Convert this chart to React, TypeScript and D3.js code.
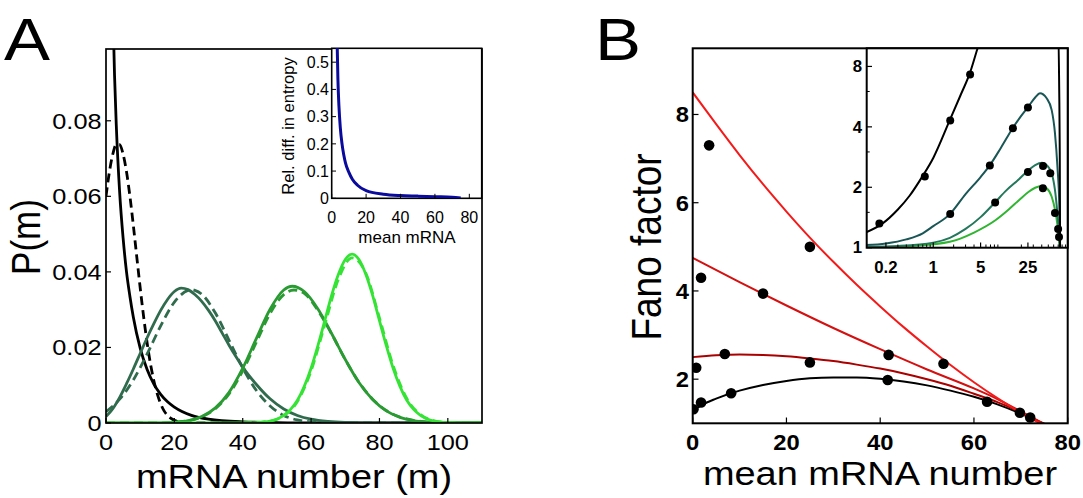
import React from 'react';
import * as d3 from 'd3';

type Pt = [number, number];

// ---------- Panel A: P(m) ----------
const blackSolid: Pt[] = [[1.5,0.135],[2,0.11],[2.5,0.092],[3,0.079],[4,0.061],[5,0.049],[6,0.04],[7,0.0335],[8,0.028],[10,0.0198],[12,0.0142],[14,0.0103],[16,0.0076],[18,0.0056],[20,0.0042],[25,0.002],[30,0.001],[40,0.0003],[50,0.0001],[60,0],[110,0]];
const blackDashed: Pt[] = [[0,0.06],[1,0.0665],[2,0.0712],[3,0.0737],[4,0.0737],[5,0.0712],[6,0.0665],[7,0.06],[8,0.0523],[9,0.044],[10,0.0358],[11,0.0282],[12,0.0214],[13,0.0157],[14,0.0112],[15,0.0077],[16,0.0051],[17,0.0032],[18,0.002],[19,0.0012],[20,0.0007],[22,0.0002],[25,0],[40,0]];
const darkSolid: Pt[] = [[0,0.0017],[2,0.0038],[4,0.0068],[6,0.0104],[8,0.0143],[10,0.0184],[12,0.0225],[14,0.0263],[16,0.0298],[18,0.0327],[20,0.0348],[22,0.0357],[24,0.0353],[26,0.034],[28,0.0322],[30,0.0298],[32,0.027],[34,0.0238],[36,0.0206],[38,0.0176],[40,0.0148],[44,0.0102],[48,0.0064],[52,0.0037],[56,0.002],[60,0.001],[65,0.0004],[70,0.00015],[80,0],[110,0]];
const darkDashed: Pt[] = [[0,0.003],[4,0.0063],[8,0.0114],[12,0.0182],[16,0.0257],[20,0.032],[24,0.0351],[25,0.0353],[26,0.0351],[28,0.0341],[32,0.0291],[36,0.0219],[40,0.0146],[44,0.0086],[48,0.0045],[52,0.002],[56,0.0008],[60,0.0003],[66,0.00005],[75,0],[110,0]];
const midSolid: Pt[] = [[0,0],[16,0.00005],[20,0.0002],[24,0.0006],[28,0.0017],[32,0.004],[36,0.0081],[40,0.0145],[44,0.0224],[48,0.0301],[52,0.0352],[54.5,0.0362],[58,0.0348],[62,0.0302],[66,0.0237],[70,0.0168],[74,0.0107],[78,0.0062],[82,0.0032],[86,0.0015],[90,0.0006],[95,0.0002],[100,0.00005],[110,0]];
const midDashed: Pt[] = [[0,0],[16,0.00005],[20,0.0002],[24,0.0006],[28,0.0016],[32,0.0038],[36,0.0077],[40,0.0138],[44,0.0214],[48,0.029],[52,0.034],[55,0.0352],[58,0.0343],[62,0.0298],[66,0.0236],[70,0.0168],[74,0.0108],[78,0.0063],[82,0.0033],[86,0.0016],[90,0.0007],[95,0.0002],[100,0],[110,0]];
const brightSolid: Pt[] = [[0,0],[40,0],[44,0.0001],[48,0.0005],[52,0.002],[54,0.0036],[56,0.006],[58,0.0097],[60,0.0145],[62,0.0205],[64,0.0271],[66,0.0338],[68,0.0394],[70,0.0433],[72,0.0447],[74,0.0433],[76,0.0394],[78,0.0338],[80,0.0271],[82,0.0205],[84,0.0145],[86,0.0097],[88,0.006],[90,0.0036],[92,0.002],[96,0.0005],[100,0.0001],[104,0],[110,0]];
const brightDashed: Pt[] = [[40,0],[48,0.0005],[52,0.0019],[56,0.0057],[60,0.0138],[64,0.026],[68,0.0381],[72,0.0437],[76,0.0397],[80,0.0278],[84,0.0152],[88,0.0065],[92,0.0022],[96,0.0006],[100,0.0001],[104,0]];

// inset A: relative difference in entropy vs mean mRNA
const entropyDiff: Pt[] = [[3.2,0.56],[3.6,0.44],[4.2,0.34],[5,0.26],[6,0.2],[7,0.16],[8,0.13],[10,0.095],[12,0.07],[15,0.048],[20,0.028],[30,0.015],[40,0.01],[50,0.008],[60,0.006],[70,0.004],[75,0.001]];

const aXTicks = [0, 20, 40, 60, 80, 100];
const aYTicks = [0, 0.02, 0.04, 0.06, 0.08];
const aYLabels = ['0', '0.02', '0.04', '0.06', '0.08'];
const aiXTicks = [0, 20, 40, 60, 80];
const aiYTicks = [0, 0.1, 0.2, 0.3, 0.4, 0.5];

// ---------- Panel B: Fano factor ----------
const fanoTop: Pt[] = [[0,8.5],[5,7.78],[10,7.08],[15,6.42],[20,5.8],[25,5.21],[30,4.66],[35,4.14],[40,3.65],[45,3.18],[50,2.74],[55,2.32],[60,1.93],[65,1.57],[70,1.24],[75,0.95],[78,0.8]];
const fanoMid: Pt[] = [[0,4.75],[10,4.2],[20,3.67],[30,3.16],[40,2.68],[50,2.22],[60,1.79],[65,1.55],[70,1.27],[75,0.98],[78,0.85]];
const fanoLow: Pt[] = [[0,2.5],[5,2.54],[10,2.56],[15,2.55],[20,2.52],[25,2.47],[30,2.41],[35,2.33],[40,2.24],[45,2.13],[50,2.0],[55,1.85],[60,1.67],[65,1.48],[70,1.25],[75,0.99],[78,0.85]];
const fanoBlack: Pt[] = [[0,1.28],[2,1.42],[5,1.56],[10,1.74],[15,1.87],[20,1.96],[25,2.02],[30,2.04],[35,2.04],[40,2.01],[45,1.95],[50,1.86],[55,1.74],[60,1.6],[65,1.43],[70,1.22],[75,0.98],[78,0.85]];

const fanoDots: Pt[] = [[0.16,1.32],[0.75,2.26],[1.78,4.3],[3.5,7.3],[1.78,1.47],[6.85,2.57],[15,3.94],[25,5.0],[8.2,1.68],[25,2.38],[41.8,2.55],[53.5,2.35],[41.6,1.98],[62.8,1.49],[69.8,1.24],[72,1.13]];

// inset B (log axes)
const logBlack: Pt[] = [[0.1,1.19],[0.173,1.31],[0.3,1.55],[0.45,1.82],[0.688,2.26],[1,2.8],[1.76,4.33],[2.5,5.7],[3.49,7.45],[4.47,9.75],[6,13],[70,13],[72.5,6],[73.8,3],[74.6,1.0]];
const logTeal: Pt[] = [[0.1,1.03],[0.2,1.05],[0.4,1.1],[0.7,1.18],[1,1.28],[1.76,1.47],[3,1.85],[5,2.25],[6.87,2.58],[10,3.15],[15.2,3.98],[20,4.55],[25.7,5.08],[32,5.6],[37.6,5.88],[47.3,5.55],[56,4.86],[62.7,3.72],[68.2,2.53],[72.8,1.6],[74.4,1.0]];
const logGreen3: Pt[] = [[0.1,1.01],[0.3,1.02],[1,1.06],[1.76,1.12],[3,1.24],[5,1.42],[8.27,1.69],[12,1.93],[18.6,2.2],[25.7,2.44],[32,2.58],[40.5,2.65],[47.3,2.58],[56,2.35],[62.7,1.94],[68.2,1.48],[72.8,1.13],[74.4,1.0]];
const logGreen4: Pt[] = [[0.1,1.0],[0.5,1.02],[1.76,1.07],[4,1.19],[8.27,1.37],[13,1.55],[18.6,1.73],[25.7,1.9],[32,1.99],[39.8,2.03],[47.3,1.98],[56,1.8],[62.7,1.55],[68.2,1.3],[72.8,1.05],[74.4,1.0]];

const bXTicks = [0, 20, 40, 60, 80];
const bYTicks = [2, 4, 6, 8];
const biXTicks = [0.2, 1, 5, 25];
const biXMinor = [0.3,0.4,0.5,0.6,0.7,0.8,0.9,2,3,4,6,7,8,9,20,30,40,50,60,70,80,90];
const biYTicks = [1, 2, 4, 8];
const biYMinor = [1.5, 3, 6];

const FONT = 'Liberation Sans, Arial, Helvetica, sans-serif';
const SX = 1.15;

function T({ x, y, size, anchor = 'middle', weight = 400, sx = SX, rot = false, children }: any) {
  return (
    <text
      transform={`translate(${x},${y}) scale(${sx},1)${rot ? ' rotate(-90)' : ''}`}
      fontSize={size}
      fontFamily={FONT}
      fontWeight={weight}
      textAnchor={anchor}
      fill="#000"
    >
      {children}
    </text>
  );
}

export default function App() {
  // Panel A scales
  const xA = d3.scaleLinear().domain([0, 110]).range([106, 482]);
  const yA = d3.scaleLinear().domain([0, 0.099]).range([423, 49]);
  const xAi = d3.scaleLinear().domain([0, 87.2]).range([331.7, 481.7]);
  const yAi = d3.scaleLinear().domain([0, 0.551]).range([198.3, 48.3]);
  // Panel B scales
  const xB = d3.scaleLinear().domain([0, 80]).range([692.7, 1067.7]);
  const yB = d3.scaleLinear().domain([1, 9.5]).range([423.3, 48.3]);
  const xBi = d3.scaleLog().domain([0.104, 96.7]).range([866.7, 1067.7]);
  const yBi = d3.scaleLog().base(2).domain([1, 9.85]).range([247.7, 48.3]);

  const lineA = d3.line<Pt>().x(d => xA(d[0])).y(d => yA(d[1])).curve(d3.curveMonotoneX);
  const lineAi = d3.line<Pt>().x(d => xAi(d[0])).y(d => yAi(d[1])).curve(d3.curveMonotoneX);
  const lineB = d3.line<Pt>().x(d => xB(d[0])).y(d => yB(d[1])).curve(d3.curveMonotoneX);
  const lineBi = d3.line<Pt>().x(d => xBi(d[0])).y(d => yBi(d[1])).curve(d3.curveMonotoneX);

  const aCurves = [
    { d: blackSolid, c: '#000', dash: '' },
    { d: blackDashed, c: '#000', dash: '9,5' },
    { d: darkDashed, c: '#2f6b4c', dash: '9,5' },
    { d: darkSolid, c: '#2f6b4c', dash: '' },
    { d: midDashed, c: '#2a9a32', dash: '9,5' },
    { d: midSolid, c: '#2a9a32', dash: '' },
    { d: brightDashed, c: '#35e335', dash: '9,5' },
    { d: brightSolid, c: '#35e335', dash: '' },
  ];
  const bCurves = [
    { d: fanoBlack, c: '#000' },
    { d: fanoLow, c: '#aa0000' },
    { d: fanoMid, c: '#d41010' },
    { d: fanoTop, c: '#f41a1a' },
  ];
  const biCurves = [
    { d: logGreen4, c: '#2fb531' },
    { d: logGreen3, c: '#23775c' },
    { d: logTeal, c: '#1b5656' },
    { d: logBlack, c: '#000' },
  ];

  return (
    <svg width={1083} height={498} style={{ position: 'absolute', left: 0, top: 0, background: '#fff' }}>
      <defs>
        <clipPath id="clipA"><rect x={106} y={49} width={376} height={374} /></clipPath>
        <clipPath id="clipAi"><rect x={331.7} y={48.3} width={150} height={150} /></clipPath>
        <clipPath id="clipB"><rect x={692.7} y={48.3} width={375} height={375} /></clipPath>
        <clipPath id="clipBi"><rect x={866.7} y={48.3} width={201} height={199.4} /></clipPath>
      </defs>
      <rect x={0} y={0} width={1083} height={498} fill="#fff" />

      {/* ===== Panel A ===== */}
      <T x={4} y={60} size={60} anchor="start">A</T>
      <g clipPath="url(#clipA)">
        {aCurves.map((c, i) => (
          <path key={i} d={lineA(c.d) || ''} fill="none" stroke={c.c} strokeWidth={2.8}
            strokeDasharray={c.dash || undefined} />
        ))}
      </g>
      <rect x={106} y={49} width={376} height={374} fill="none" stroke="#000" strokeWidth={1.7} />
      {aXTicks.map(t => (
        <g key={'ax' + t}>
          <line x1={xA(t)} x2={xA(t)} y1={423} y2={418} stroke="#000" strokeWidth={1.2} />
          <T x={xA(t)} y={450} size={22}>{t}</T>
        </g>
      ))}
      {aYTicks.map((t, i) => (
        <g key={'ay' + t}>
          <line x1={106} x2={111} y1={yA(t)} y2={yA(t)} stroke="#000" strokeWidth={1.2} />
          <T x={101.5} y={yA(t) + 8} size={22} anchor="end">{aYLabels[i]}</T>
        </g>
      ))}
      <T x={294} y={488} size={33}>mRNA number (m)</T>
      <T x={40} y={237} size={35} rot>P(m)</T>

      {/* inset A */}
      <rect x={331.7} y={48.3} width={150} height={150} fill="#fff" stroke="#000" strokeWidth={1.6} />
      <g clipPath="url(#clipAi)">
        <path d={lineAi(entropyDiff) || ''} fill="none" stroke="#0a0a9c" strokeWidth={3} />
      </g>
      {aiXTicks.map(t => (
        <g key={'aix' + t}>
          <line x1={xAi(t)} x2={xAi(t)} y1={198.3} y2={193.8} stroke="#000" strokeWidth={1} />
          <T x={xAi(t)} y={223} size={16} sx={1}>{t}</T>
        </g>
      ))}
      {aiYTicks.map(t => (
        <g key={'aiy' + t}>
          <line x1={331.7} x2={336} y1={yAi(t)} y2={yAi(t)} stroke="#000" strokeWidth={1} />
          <T x={329} y={yAi(t) + 5.7} size={16} sx={1} anchor="end">{t === 0 ? '0' : t.toFixed(1)}</T>
        </g>
      ))}
      <T x={407} y={243} size={17} sx={1}>mean mRNA</T>
      <T x={294} y={126} size={16.5} sx={1} rot>Rel. diff. in entropy</T>

      {/* ===== Panel B ===== */}
      <T x={595} y={60} size={60} anchor="start">B</T>
      <g clipPath="url(#clipB)">
        {bCurves.map((c, i) => (
          <path key={i} d={lineB(c.d) || ''} fill="none" stroke={c.c} strokeWidth={2} />
        ))}
        {fanoDots.map((p, i) => (
          <circle key={i} cx={xB(p[0])} cy={yB(p[1])} r={5.3} fill="#000" />
        ))}
      </g>
      <rect x={692.7} y={48.3} width={375} height={375} fill="none" stroke="#000" strokeWidth={2} />
      {bXTicks.map(t => (
        <g key={'bx' + t}>
          <line x1={xB(t)} x2={xB(t)} y1={423.3} y2={417.5} stroke="#000" strokeWidth={1.2} />
          <T x={xB(t)} y={450} size={22} weight={700} sx={1.08}>{t}</T>
        </g>
      ))}
      {bYTicks.map(t => (
        <g key={'by' + t}>
          <line x1={692.7} x2={698.5} y1={yB(t)} y2={yB(t)} stroke="#000" strokeWidth={1.2} />
          <T x={689} y={yB(t) + 8} size={22} weight={700} sx={1.08} anchor="end">{t}</T>
        </g>
      ))}
      <T x={880} y={485} size={33}>mean mRNA number</T>
      <T x={661} y={247} size={37} rot>Fano factor</T>

      {/* inset B */}
      <rect x={866.7} y={48.3} width={201} height={199.4} fill="#fff" />
      <g clipPath="url(#clipBi)">
        {biCurves.map((c, i) => (
          <path key={i} d={lineBi(c.d) || ''} fill="none" stroke={c.c} strokeWidth={2} />
        ))}
        {fanoDots.map((p, i) => (
          <circle key={i} cx={xBi(p[0])} cy={yBi(p[1])} r={4} fill="#000" />
        ))}
      </g>
      <rect x={866.7} y={48.3} width={201} height={199.4} fill="none" stroke="#000" strokeWidth={2} />
      {biXMinor.map(t => (
        <line key={'bixm' + t} x1={xBi(t)} x2={xBi(t)} y1={247.7} y2={244.5} stroke="#000" strokeWidth={1} />
      ))}
      {biXTicks.map(t => (
        <g key={'bix' + t}>
          <line x1={xBi(t)} x2={xBi(t)} y1={247.7} y2={242.5} stroke="#000" strokeWidth={1.2} />
          <T x={xBi(t)} y={273} size={16} weight={700} sx={1.05}>{t}</T>
        </g>
      ))}
      {biYMinor.map(t => (
        <line key={'biym' + t} x1={866.7} x2={869.7} y1={yBi(t)} y2={yBi(t)} stroke="#000" strokeWidth={1} />
      ))}
      {biYTicks.map(t => (
        <g key={'biy' + t}>
          <line x1={866.7} x2={872} y1={yBi(t)} y2={yBi(t)} stroke="#000" strokeWidth={1.2} />
          <T x={862} y={yBi(t) + 5.7} size={16} weight={700} sx={1.05} anchor="end">{t}</T>
        </g>
      ))}
    </svg>
  );
}
